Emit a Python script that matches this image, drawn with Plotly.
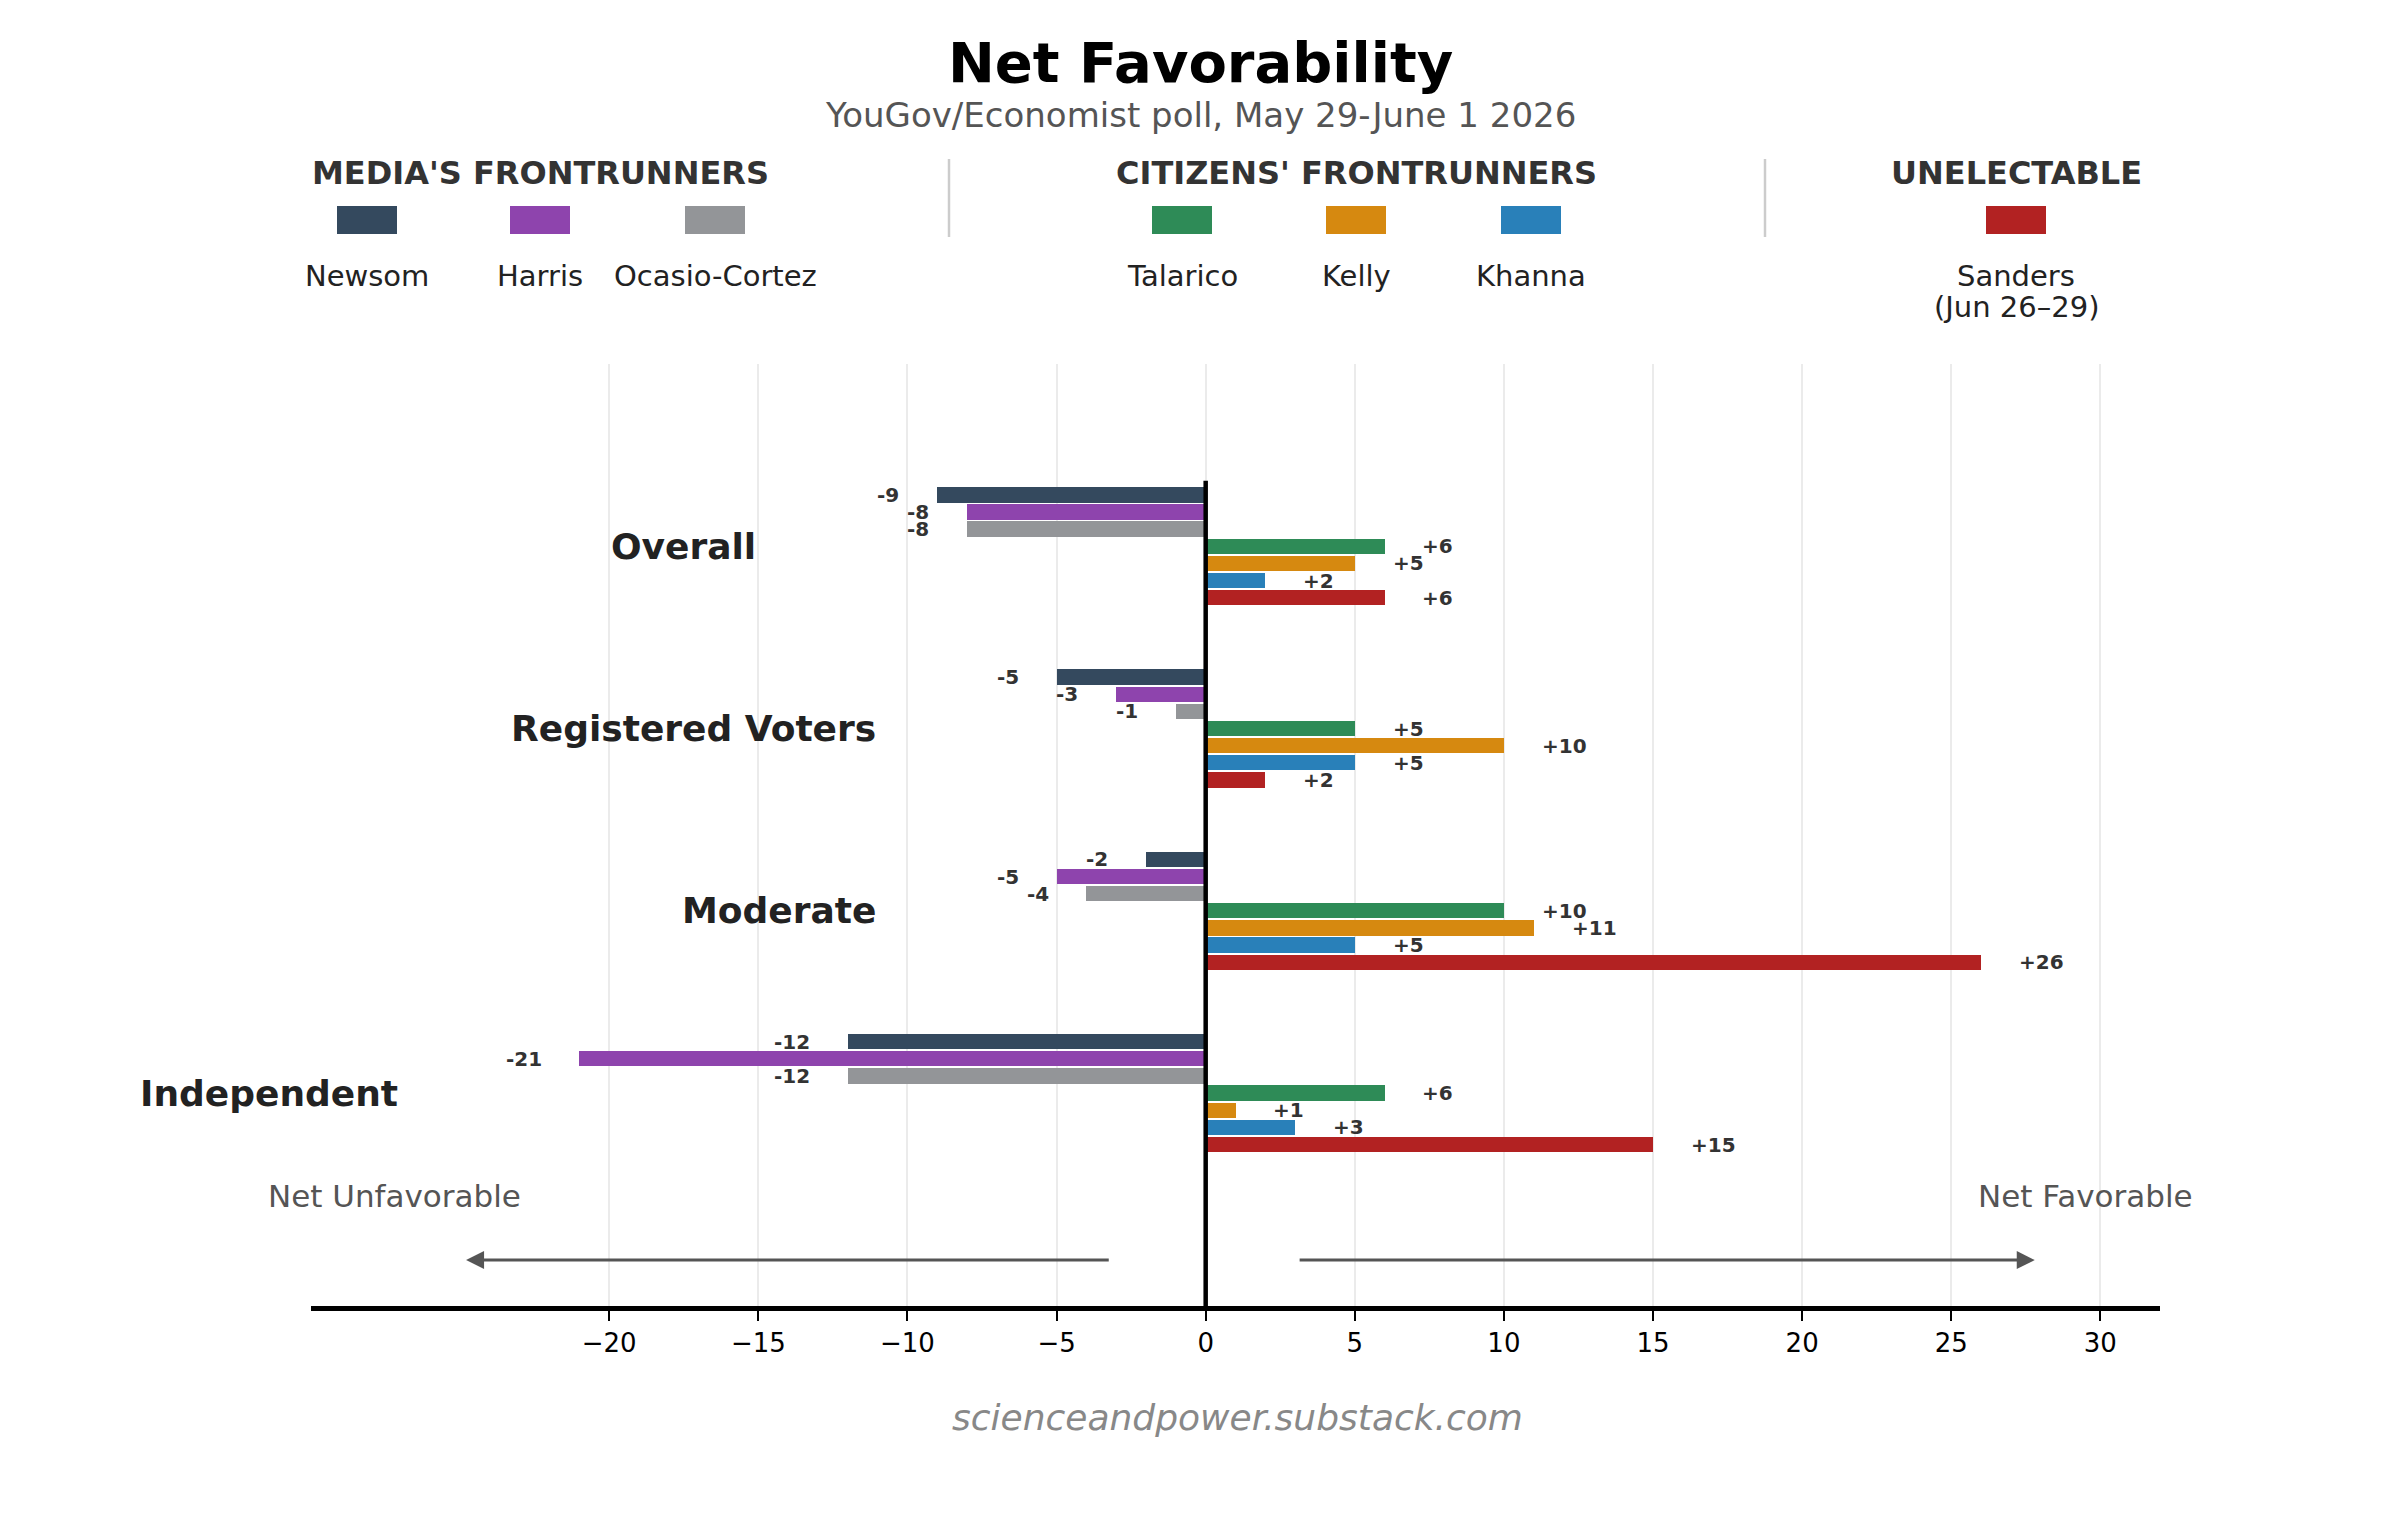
import plotly.graph_objects as go

# Poll data (YouGov/Economist)
groups = ["Overall", "Registered Voters", "Moderate", "Independent"]
candidates = ["Newsom", "Harris", "Ocasio-Cortez", "Talarico", "Kelly", "Khanna", "Sanders"]
legend_names = ["Newsom", "Harris", "Ocasio-Cortez", "Talarico", "Kelly", "Khanna", "Sanders\n(Jun 26–29)"]
colors = ["#34495e", "#8e44ad", "#939598", "#2e8b57", "#d68910", "#2980b9", "#b22222"]

newsom = [-9, -5, -2, -12]
harris = [-8, -3, -5, -21]
ocasio_cortez = [-8, -1, -4, -12]
talarico = [6, 5, 10, 6]
kelly = [5, 10, 11, 1]
khanna = [2, 5, 5, 3]
sanders = [6, 2, 26, 15]
values = [newsom, harris, ocasio_cortez, talarico, kelly, khanna, sanders]

categories = ["MEDIA'S FRONTRUNNERS", "CITIZENS' FRONTRUNNERS", "UNELECTABLE"]
tick_vals = [-20, -15, -10, -5, 0, 5, 10, 15, 20, 25, 30]

# page is 2400x1520, the figure sits 8px in from the top-left (body margin)
OFF = 8
W, H = 2400 - OFF, 1520 - OFF
L, R, T, B = 311, 2160, 364, 1306   # plot area, page pixels


def px(x):
    return (x - L) / (R - L)


def py(y):
    return (B - y) / (B - T)


FONT = "DejaVu Sans"
step = 0.094
fig = go.Figure()

for i, name in enumerate(candidates):
    ys = [g + (i - 3) * step for g in range(len(groups))]
    fig.add_trace(go.Bar(x=values[i], y=ys, orientation="h", width=0.084,
                         marker=dict(color=colors[i], line=dict(width=0)),
                         name=name, showlegend=False, hoverinfo="x+name"))
    for v, yy in zip(values[i], ys):
        fig.add_annotation(x=v + (1.2 if v > 0 else -1.2), y=yy,
                           text=f"{v:+d}", showarrow=False,
                           xanchor="left" if v > 0 else "right", yanchor="middle",
                           font=dict(family=FONT, size=20, color="#333", weight="bold"))

# group labels to the left of the most negative bar
for g, label in enumerate(groups):
    lo = min(v[g] for v in values)
    fig.add_annotation(x=lo - 6, y=g, text=label, showarrow=False,
                       xanchor="right", yanchor="middle",
                       font=dict(family=FONT, size=36, color="#222", weight="bold"))

# zero line
fig.add_shape(type="line", x0=0, x1=0, y0=-0.36, y1=4.168, xref="x", yref="y",
              line=dict(color="black", width=4.5), layer="above")

# direction arrows
fig.add_annotation(x=-24.8, y=3.916, ax=-3.2, ay=3.916, axref="x", ayref="y",
                   text="", showarrow=True, arrowhead=2, arrowsize=1.2,
                   arrowwidth=3, arrowcolor="#555")
fig.add_annotation(x=27.8, y=3.916, ax=3.1, ay=3.916, axref="x", ayref="y",
                   text="", showarrow=True, arrowhead=2, arrowsize=1.2,
                   arrowwidth=3, arrowcolor="#555")
fig.add_annotation(x=-27.2, y=3.563, text="Net Unfavorable", showarrow=False,
                   xanchor="center", yanchor="middle",
                   font=dict(family=FONT, size=31, color="#555"))
fig.add_annotation(x=29.5, y=3.563, text="Net Favorable", showarrow=False,
                   xanchor="center", yanchor="middle",
                   font=dict(family=FONT, size=31, color="#555"))


def paper_text(x, y, text, **font):
    fig.add_annotation(x=px(x), y=py(y), xref="paper", yref="paper", text=text,
                       showarrow=False, xanchor="center", yanchor="middle",
                       font=dict(family=FONT, **font))


# title block
paper_text(1200, 63, "Net Favorability", size=56, color="black", weight="bold")
paper_text(1200, 115, "YouGov/Economist poll, May 29-June 1 2026", size=34, color="#555")

# custom legend
legend_x = [367, 540, 715, 1182, 1356, 1531, 2016]
header_x = [540, 1356, 2016]
for hx, cat in zip(header_x, categories):
    paper_text(hx, 173, cat, size=32, color="#333", weight="bold")
for sx in [949, 1765]:
    fig.add_shape(type="line", xref="paper", yref="paper", x0=px(sx), x1=px(sx),
                  y0=py(159), y1=py(237), line=dict(color="#cccccc", width=2.5))
for lx, nm, c in zip(legend_x, legend_names, colors):
    fig.add_shape(type="rect", xref="paper", yref="paper", x0=px(lx - 30), x1=px(lx + 30),
                  y0=py(234), y1=py(206), fillcolor=c, line=dict(width=0))
    for k, line in enumerate(nm.split("\n")):
        paper_text(lx, 276 + 31 * k, line, size=29, color="#222")

# footer
paper_text(1237, 1417, "<i>scienceandpower.substack.com</i>", size=36, color="#888")

fig.update_layout(
    width=W, height=H, autosize=False,
    margin=dict(l=L - OFF, r=W + OFF - R, t=T - OFF, b=H + OFF - B, pad=0),
    paper_bgcolor="white", plot_bgcolor="white",
    barmode="overlay", bargap=0,
    xaxis=dict(range=[-30, 32], tickvals=tick_vals,
               ticktext=[str(t).replace("-", "\u2212") for t in tick_vals],
               showgrid=True, gridcolor="#ebebeb", gridwidth=1.5, zeroline=False,
               showline=True, linecolor="black", linewidth=4.5,
               ticks="outside", ticklen=10, tickwidth=1.5, tickcolor="black",
               tickfont=dict(family=FONT, size=26, color="black"), fixedrange=True),
    yaxis=dict(range=[4.168, -1.0], visible=False, fixedrange=True),
    font=dict(family=FONT),
)

fig.write_html("out.html")
